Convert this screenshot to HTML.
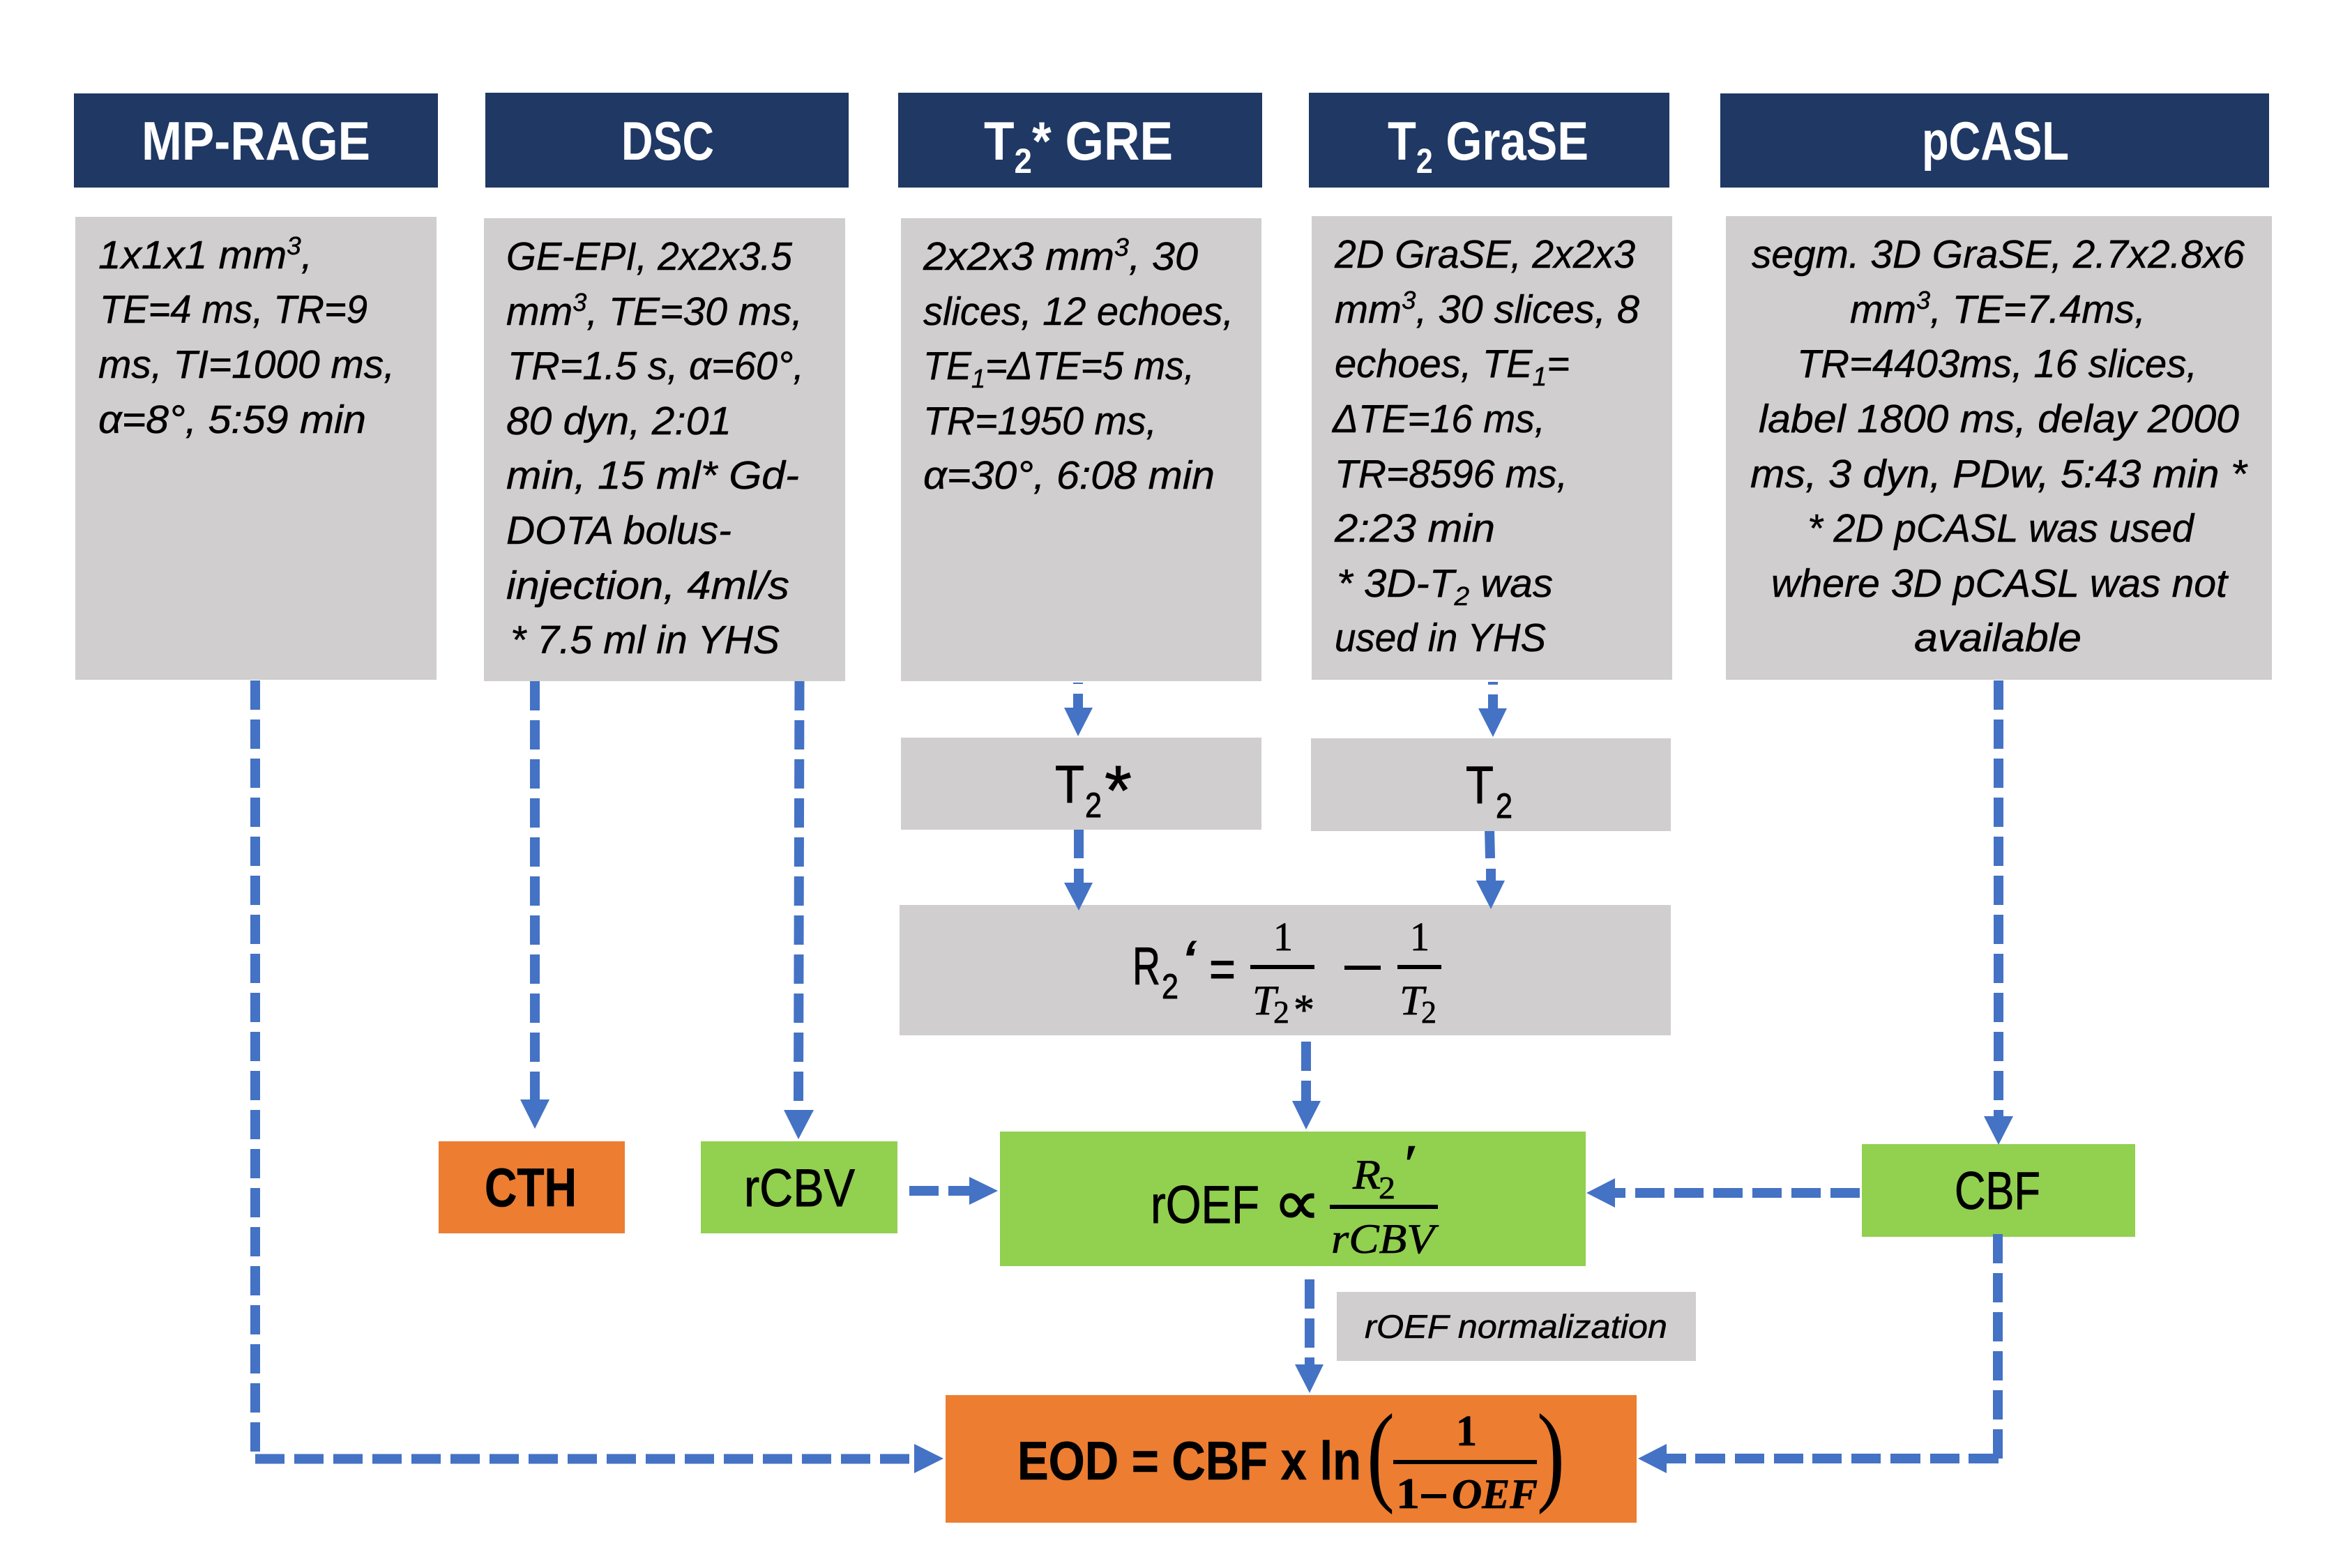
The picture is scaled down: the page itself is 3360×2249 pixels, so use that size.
<!DOCTYPE html>
<html><head><meta charset="utf-8"><title>Diagram</title>
<style>
html,body{margin:0;padding:0;background:#fff}
svg{display:block}
text{font-family:"Liberation Sans",sans-serif;fill:#000}
.i{font-style:italic;font-size:57px;stroke:#000;stroke-width:.5}
.h{font-weight:bold;font-size:78px;fill:#fff}
.r{font-size:76px;stroke:#000;stroke-width:.9}
.b{font-weight:bold;font-size:78px;stroke:#000;stroke-width:.6}
.m{font-family:"Liberation Serif",serif;font-style:italic;font-size:60px;stroke:#000;stroke-width:.7}
.n{font-family:"Liberation Serif",serif;font-size:58px;stroke:#000;stroke-width:.7}
.d{fill:none;stroke:#4472C4;stroke-width:14;stroke-dasharray:42 14}
.s{fill:none;stroke:#4472C4;stroke-width:14}
.a{fill:#4472C4}
</style></head><body>
<svg xmlns="http://www.w3.org/2000/svg" width="3360" height="2249" viewBox="0 0 3360 2249">
<rect width="3360" height="2249" fill="#fff"/>

<!-- connectors -->
<path class="d" d="M366 976V2082"/>
<path class="d" d="M366 2092.5H1304"/>
<path class="d" d="M767 977V1578"/>
<path class="d" d="M1146.5 977L1145 1579"/>
<path class="s" d="M1546 979V981M1546 995V1016"/>
<path class="s" d="M2141 978V982M2141 996V1017"/>
<path class="s" d="M1547 1190V1231M1547 1246V1267"/>
<path class="s" d="M2136 1189L2137 1231M2138 1246V1264"/>
<path class="s" d="M1873 1494V1536M1873 1550V1580"/>
<path class="s" d="M1878 1835V1877M1878 1891V1933M1878 1947V1958"/>
<path class="s" d="M1304 1708H1346M1360 1708H1391"/>
<path class="s" d="M2316 1711H2331M2345 1711H2387M2401 1711H2443M2457 1711H2499M2513 1711H2555M2569 1711H2611M2625 1711H2667"/>
<path class="d" d="M2866 976V1602"/>
<path class="s" d="M2866 2092H2823M2810 2092H2768M2754 2092H2711M2697 2092H2655M2641 2092H2599M2586 2092H2544M2530 2092H2488M2474 2092H2431M2418 2092H2389"/>

<!-- headers -->
<g fill="#1F3864">
<rect x="106" y="134" width="522" height="135"/>
<rect x="696" y="133" width="521" height="136"/>
<rect x="1288" y="133" width="522" height="136"/>
<rect x="1877" y="133" width="517" height="136"/>
<rect x="2467" y="134" width="787" height="135"/>
</g>
<!-- gray boxes -->
<g fill="#D0CECE">
<rect x="108" y="311" width="518" height="664"/>
<rect x="694" y="313" width="518" height="664"/>
<rect x="1292" y="313" width="517" height="664"/>
<rect x="1881" y="310" width="517" height="665"/>
<rect x="2475" y="310" width="783" height="665"/>
<rect x="1292" y="1058" width="517" height="132"/>
<rect x="1880" y="1059" width="516" height="133"/>
<rect x="1290" y="1298" width="1106" height="187"/>
<rect x="1917" y="1853" width="515" height="99"/>
</g>
<!-- result boxes -->
<rect x="629" y="1637" width="267" height="132" fill="#ED7D31"/>
<rect x="1005" y="1637" width="282" height="132" fill="#92D050"/>
<rect x="1434" y="1623" width="840" height="193" fill="#92D050"/>
<rect x="2670" y="1641" width="392" height="133" fill="#92D050"/>
<rect x="1356" y="2001" width="991" height="183" fill="#ED7D31"/>

<!-- connector parts drawn above boxes -->
<path class="d" d="M2865 1770V2092"/>
<polygon class="a" points="1311,2071 1353,2092 1311,2113"/>
<polygon class="a" points="746,1577 788,1577 767,1619"/>
<polygon class="a" points="1124,1592 1167,1592 1145,1634"/>
<polygon class="a" points="1526,1015 1567,1015 1546,1056"/>
<polygon class="a" points="2120,1016 2161,1016 2141,1057"/>
<polygon class="a" points="1526,1266 1567,1266 1547,1306"/>
<polygon class="a" points="2117,1263 2158,1263 2138,1304"/>
<polygon class="a" points="1853,1579 1894,1579 1873,1620"/>
<polygon class="a" points="1857,1957 1898,1957 1878,1998"/>
<polygon class="a" points="1390,1688 1431,1708 1390,1728"/>
<polygon class="a" points="2275,1711 2316,1690 2316,1732"/>
<polygon class="a" points="2845,1601 2887,1601 2866,1642"/>
<polygon class="a" points="2349,2092 2390,2071 2390,2113"/>

<!-- header text -->
<text class="h" x="203" y="229" textLength="328" lengthAdjust="spacingAndGlyphs">MP-RAGE</text>
<text class="h" x="891" y="229" textLength="133" lengthAdjust="spacingAndGlyphs">DSC</text>
<text class="h" x="1411" y="229" textLength="271" lengthAdjust="spacingAndGlyphs">T<tspan dy="19" font-size="50">2</tspan><tspan dy="-19">* GRE</tspan></text>
<text class="h" x="1990" y="229" textLength="288" lengthAdjust="spacingAndGlyphs">T<tspan dy="19" font-size="50">2</tspan><tspan dy="-19"> GraSE</tspan></text>
<text class="h" x="2756" y="229" textLength="211" lengthAdjust="spacingAndGlyphs">pCASL</text>

<!-- box 1 -->
<text class="i" x="141" y="385" textLength="307" lengthAdjust="spacingAndGlyphs">1x1x1 mm<tspan dy="-20" font-size="36">3</tspan><tspan dy="20">,</tspan></text>
<text class="i" x="143" y="463" textLength="384" lengthAdjust="spacingAndGlyphs">TE=4 ms, TR=9</text>
<text class="i" x="141" y="542" textLength="425" lengthAdjust="spacingAndGlyphs">ms, TI=1000 ms,</text>
<text class="i" x="141" y="621" textLength="384" lengthAdjust="spacingAndGlyphs">α=8°, 5:59 min</text>

<!-- box 2 -->
<text class="i" x="726" y="387" textLength="410" lengthAdjust="spacingAndGlyphs">GE-EPI, 2x2x3.5</text>
<text class="i" x="726" y="466" textLength="425" lengthAdjust="spacingAndGlyphs">mm<tspan dy="-20" font-size="36">3</tspan><tspan dy="20">, TE=30 ms,</tspan></text>
<text class="i" x="728" y="544" textLength="425" lengthAdjust="spacingAndGlyphs">TR=1.5 s, α=60°,</text>
<text class="i" x="726" y="623" textLength="323" lengthAdjust="spacingAndGlyphs">80 dyn, 2:01</text>
<text class="i" x="726" y="701" textLength="420" lengthAdjust="spacingAndGlyphs">min, 15 ml* Gd-</text>
<text class="i" x="726" y="780" textLength="323" lengthAdjust="spacingAndGlyphs">DOTA bolus-</text>
<text class="i" x="726" y="859" textLength="406" lengthAdjust="spacingAndGlyphs">injection, 4ml/s</text>
<text class="i" x="732" y="937" textLength="386" lengthAdjust="spacingAndGlyphs">* 7.5 ml in YHS</text>

<!-- box 3 -->
<text class="i" x="1324" y="387" textLength="394" lengthAdjust="spacingAndGlyphs">2x2x3 mm<tspan dy="-20" font-size="36">3</tspan><tspan dy="20">, 30</tspan></text>
<text class="i" x="1324" y="466" textLength="445" lengthAdjust="spacingAndGlyphs">slices, 12 echoes,</text>
<text class="i" x="1324" y="544" textLength="389" lengthAdjust="spacingAndGlyphs">TE<tspan dy="12" font-size="38">1</tspan><tspan dy="-12">=ΔTE=5 ms,</tspan></text>
<text class="i" x="1324" y="623" textLength="335" lengthAdjust="spacingAndGlyphs">TR=1950 ms,</text>
<text class="i" x="1324" y="701" textLength="418" lengthAdjust="spacingAndGlyphs">α=30°, 6:08 min</text>

<!-- box 4 -->
<text class="i" x="1914" y="384" textLength="431" lengthAdjust="spacingAndGlyphs">2D GraSE, 2x2x3</text>
<text class="i" x="1914" y="463" textLength="437" lengthAdjust="spacingAndGlyphs">mm<tspan dy="-20" font-size="36">3</tspan><tspan dy="20">, 30 slices, 8</tspan></text>
<text class="i" x="1914" y="541" textLength="337" lengthAdjust="spacingAndGlyphs">echoes, TE<tspan dy="12" font-size="38">1</tspan><tspan dy="-12">=</tspan></text>
<text class="i" x="1911" y="620" textLength="305" lengthAdjust="spacingAndGlyphs">ΔTE=16 ms,</text>
<text class="i" x="1914" y="699" textLength="334" lengthAdjust="spacingAndGlyphs">TR=8596 ms,</text>
<text class="i" x="1914" y="777" textLength="230" lengthAdjust="spacingAndGlyphs">2:23 min</text>
<text class="i" x="1917" y="856" textLength="310" lengthAdjust="spacingAndGlyphs">* 3D-T<tspan dy="12" font-size="38">2</tspan><tspan dy="-12"> was</tspan></text>
<text class="i" x="1914" y="934" textLength="303" lengthAdjust="spacingAndGlyphs">used in YHS</text>

<!-- box 5 -->
<text class="i" x="2512" y="384" textLength="707" lengthAdjust="spacingAndGlyphs">segm. 3D GraSE, 2.7x2.8x6</text>
<text class="i" x="2653" y="463" textLength="424" lengthAdjust="spacingAndGlyphs">mm<tspan dy="-20" font-size="36">3</tspan><tspan dy="20">, TE=7.4ms,</tspan></text>
<text class="i" x="2577" y="541" textLength="574" lengthAdjust="spacingAndGlyphs">TR=4403ms, 16 slices,</text>
<text class="i" x="2522" y="620" textLength="689" lengthAdjust="spacingAndGlyphs">label 1800 ms, delay 2000</text>
<text class="i" x="2510" y="699" textLength="712" lengthAdjust="spacingAndGlyphs">ms, 3 dyn, PDw, 5:43 min *</text>
<text class="i" x="2592" y="777" textLength="554" lengthAdjust="spacingAndGlyphs">* 2D pCASL was used</text>
<text class="i" x="2540" y="856" textLength="654" lengthAdjust="spacingAndGlyphs">where 3D pCASL was not</text>
<text class="i" x="2745" y="934" textLength="240" lengthAdjust="spacingAndGlyphs">available</text>

<!-- T2 boxes -->
<text class="r" x="1513" y="1151" textLength="42" lengthAdjust="spacingAndGlyphs">T</text>
<text class="r" x="1556" y="1172" style="font-size:50px" textLength="24" lengthAdjust="spacingAndGlyphs">2</text>
<text class="r" x="1584" y="1168" style="font-size:100px" textLength="39" lengthAdjust="spacingAndGlyphs">*</text>
<text class="r" x="2102" y="1152" textLength="40" lengthAdjust="spacingAndGlyphs">T</text>
<text class="r" x="2145" y="1173" style="font-size:50px" textLength="24" lengthAdjust="spacingAndGlyphs">2</text>

<!-- R2' formula -->
<text class="r" x="1624" y="1412" textLength="40" lengthAdjust="spacingAndGlyphs">R</text>
<text class="r" x="1666" y="1432" style="font-size:50px" textLength="24" lengthAdjust="spacingAndGlyphs">2</text>
<text class="r" x="1692" y="1412" style="font-style:italic;font-size:90px" textLength="22" lengthAdjust="spacingAndGlyphs">‘</text>
<text class="r" x="1734" y="1416" textLength="38" lengthAdjust="spacingAndGlyphs">=</text>
<rect x="1793" y="1384" width="92" height="6"/>
<text class="n" x="1826" y="1363" textLength="28" lengthAdjust="spacingAndGlyphs">1</text>
<text class="m" x="1796" y="1455" textLength="34" lengthAdjust="spacingAndGlyphs">T</text>
<text class="n" x="1826" y="1467" style="font-size:46px" textLength="23" lengthAdjust="spacingAndGlyphs">2</text>
<text class="n" x="1855" y="1469" style="font-size:62px" textLength="30" lengthAdjust="spacingAndGlyphs">*</text>
<rect x="1928" y="1385" width="52" height="6"/>
<rect x="2004" y="1384" width="63" height="6"/>
<text class="n" x="2022" y="1363" textLength="28" lengthAdjust="spacingAndGlyphs">1</text>
<text class="m" x="2007" y="1455" textLength="35" lengthAdjust="spacingAndGlyphs">T</text>
<text class="n" x="2038" y="1467" style="font-size:46px" textLength="22" lengthAdjust="spacingAndGlyphs">2</text>

<!-- rOEF formula -->
<text class="r" x="1650" y="1754" textLength="156" lengthAdjust="spacingAndGlyphs">rOEF</text>
<text class="r" x="1826" y="1756" style="font-family:'DejaVu Sans',sans-serif;font-size:90px;stroke-width:1.5" textLength="68" lengthAdjust="spacingAndGlyphs">∝</text>
<rect x="1907" y="1728" width="155" height="6"/>
<text class="m" x="1940" y="1705" textLength="40" lengthAdjust="spacingAndGlyphs">R</text>
<text class="n" x="1977" y="1719" style="font-size:46px" textLength="24" lengthAdjust="spacingAndGlyphs">2</text>
<text class="m" x="2008" y="1697" style="font-size:80px" textLength="20" lengthAdjust="spacingAndGlyphs">′</text>
<text class="m" x="1909" y="1797" textLength="148" lengthAdjust="spacingAndGlyphs">rCBV</text>

<!-- simple result labels -->
<text class="b" x="695" y="1730" textLength="132" lengthAdjust="spacingAndGlyphs">CTH</text>
<text class="r" x="1067" y="1730" textLength="159" lengthAdjust="spacingAndGlyphs">rCBV</text>
<text class="r" x="2803" y="1734" textLength="123" lengthAdjust="spacingAndGlyphs">CBF</text>

<!-- normalization label -->
<text class="i" x="1957" y="1919" style="font-size:47px" textLength="434" lengthAdjust="spacingAndGlyphs">rOEF normalization</text>

<!-- EOD formula -->
<text class="b" x="1459" y="2122" textLength="493" lengthAdjust="spacingAndGlyphs">EOD = CBF x ln</text>
<text x="1960" y="2138" style="font-family:'Liberation Serif',serif;font-size:160px" textLength="40" lengthAdjust="spacingAndGlyphs">(</text>
<text x="2204" y="2138" style="font-family:'Liberation Serif',serif;font-size:160px" textLength="40" lengthAdjust="spacingAndGlyphs">)</text>
<rect x="1998" y="2094" width="206" height="6"/>
<text class="n" x="2088" y="2073" style="font-weight:bold;font-size:62px" textLength="30" lengthAdjust="spacingAndGlyphs">1</text>
<text class="n" x="2002" y="2163" style="font-weight:bold;font-size:62px" textLength="34" lengthAdjust="spacingAndGlyphs">1</text>
<rect x="2038" y="2143" width="36" height="6"/>
<text class="m" x="2082" y="2163" style="font-weight:bold;font-size:60px" textLength="123" lengthAdjust="spacingAndGlyphs">OEF</text>
</svg>
</body></html>
